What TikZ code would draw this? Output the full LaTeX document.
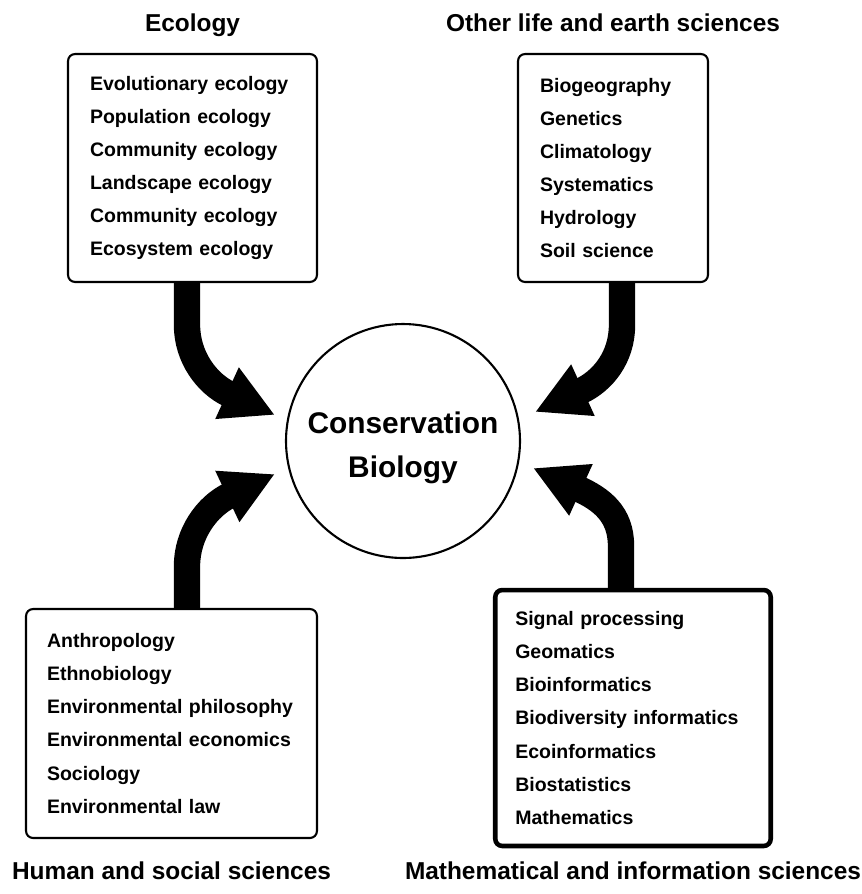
\documentclass[tikz,border=0pt]{standalone}
\usepackage{fontspec}
\setmainfont{Liberation Sans}
\usepackage{tikz}
\usetikzlibrary{arrows.meta}
\tikzset{>={Triangle[length=30pt, width=30pt]}}
\hyphenpenalty=10000

\begin{document}
\begin{tikzpicture}[x=0.02cm, y=-0.02cm,
		field/.style={rectangle, rounded corners=4pt, draw=black, line width=1.2pt, align=left, inner ysep=0pt, font=\fontsize{11.1}{18.8}\selectfont\bfseries},
		heavy/.style={field, line width=2.6pt},
		title/.style={anchor=base, font=\fontsize{13.9}{16}\selectfont\bfseries},
		hub/.style={circle, draw=black, line width=1.2pt, minimum size=4.68cm, align=center, font=\fontsize{17}{25}\selectfont\bfseries},
		flow/.style={->, line width=15pt}]
		\useasboundingbox (0,0) rectangle (862,894);
		\node[field, minimum height=4.56cm, text width=4.10cm, inner xsep=0.44cm] (1) at (192.5,168) {Evolutionary ecology\\Population ecology\\Community ecology\\Landscape ecology\\Community ecology\\Ecosystem ecology};
		\node[field, minimum height=4.56cm, text width=2.92cm, inner xsep=0.44cm] (2) at (613,168) {Biogeography\\Genetics\\Climatology\\Systematics\\Hydrology\\Soil science};
		\node[field, minimum height=4.58cm, text width=4.98cm, inner xsep=0.42cm] (3) at (171.5,723.5) {Anthropology\\Ethnobiology\\Environmental philosophy\\Environmental economics\\Sociology\\Environmental law};
		\node[heavy, minimum height=5.12cm, text width=4.71cm, inner xsep=0.40cm] (4) at (633,718) {Signal processing\\Geomatics\\Bioinformatics\\Biodiversity informatics\\Ecoinformatics\\Biostatistics\\Mathematics};
		\node[hub] (5) at (403,441) {\rule{0pt}{20pt}Conservation\\Biology};
		\node[title] (6) at (192.5,31) {Ecology};
		\node[title] (7) at (613,31) {Other life and earth sciences};
		\node[title] (8) at (171.5,879) {Human and social sciences};
		\node[title] (9) at (633,879) {Mathematical and information sciences};
		\coordinate (t1) at (275,415);
		\coordinate (t2) at (535,412);
		\coordinate (t3) at (275,474);
		\coordinate (t4) at (533,468);
		
		\draw[flow] ([xshift=-0.11cm]1.south) -- ++(0,42) .. controls +(0,32) and +(-68,-31) .. (t1);
		\draw[flow] ([xshift=0.18cm]2.south) -- ++(0,42) .. controls +(0,32) and +(68,-31) .. (t2);
		\draw[flow] ([xshift=0.31cm]3.north) -- ++(0,-42) .. controls +(0,-32) and +(-68,32) .. (t3);
		\draw[flow] ([xshift=-0.24cm]4.north) -- ++(0,-42) .. controls +(0,-32) and +(68,31) .. (t4);
		
	\end{tikzpicture}
\end{document}
